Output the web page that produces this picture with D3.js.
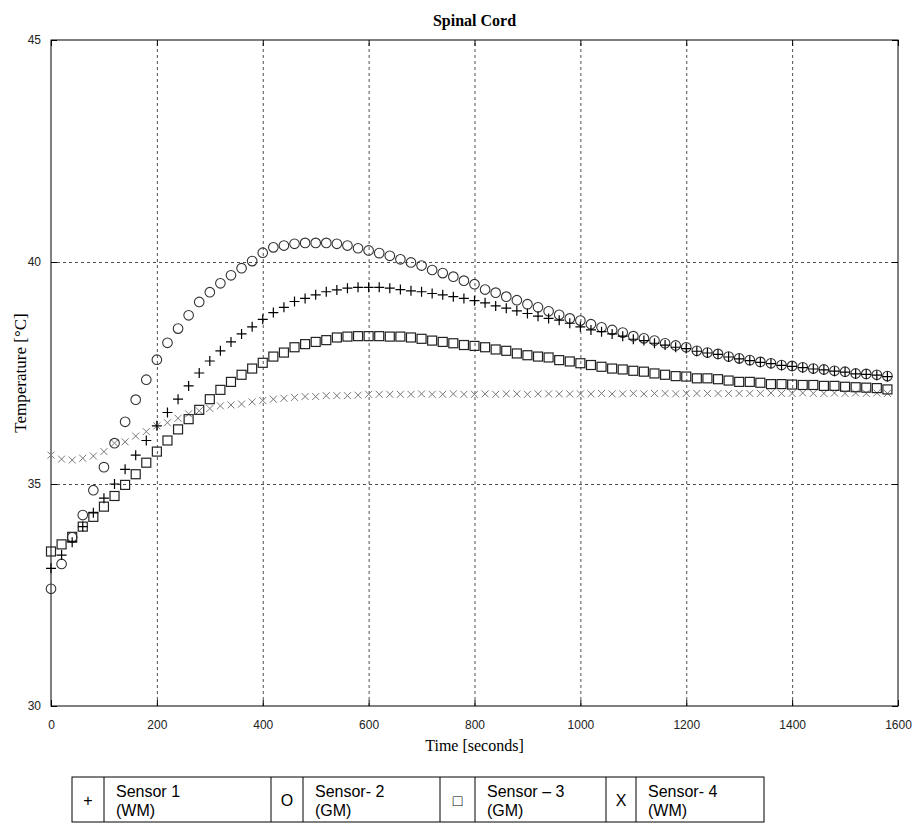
<!DOCTYPE html>
<html>
<head>
<meta charset="utf-8">
<script src="https://cdn.jsdelivr.net/npm/d3@7"></script>
<style>
  body { margin: 0; background: #fff; }
  .tick text { font-family: "Liberation Sans Narrow", "Arial Narrow", "Liberation Sans", sans-serif; font-size: 12px; fill: #222; }
  .grid line { stroke: #222; stroke-dasharray: 3,3; stroke-width: 0.8; }
  .grid .domain { display: none; }
</style>
</head>
<body>
<div id="chart"></div>
<script>
var margin = {top: 40, right: 25, bottom: 126, left: 51};
var width = 923, height = 832;
var w = 898 - margin.left, h = 706 - margin.top;

// data, one point every 20 s
var times = d3.range(0, 1600, 20);
var sensor1 = [33.1, 33.4, 33.69, 34.04, 34.35, 34.68, 35.0, 35.33, 35.65, 35.98,
  36.31, 36.61, 36.91, 37.21, 37.5, 37.77, 38.0, 38.2, 38.38, 38.54,
  38.71, 38.86, 38.98, 39.11, 39.18, 39.26, 39.33, 39.37, 39.41, 39.43,
  39.43, 39.43, 39.41, 39.38, 39.35, 39.33, 39.29, 39.26, 39.22, 39.18,
  39.13, 39.08, 39.01, 38.96, 38.9, 38.84, 38.78, 38.73, 38.69, 38.62,
  38.54, 38.47, 38.43, 38.38, 38.33, 38.26, 38.23, 38.17, 38.13, 38.08,
  38.05, 37.99, 37.95, 37.92, 37.86, 37.82, 37.78, 37.74, 37.71, 37.67,
  37.65, 37.62, 37.59, 37.57, 37.54, 37.52, 37.48, 37.47, 37.45, 37.42];
var sensor2 = [32.64, 33.2, 33.8, 34.3, 34.86, 35.38, 35.92, 36.4, 36.9, 37.35,
  37.8, 38.18, 38.5, 38.8, 39.1, 39.32, 39.52, 39.7, 39.86, 40.02,
  40.21, 40.33, 40.37, 40.41, 40.43, 40.43, 40.43, 40.41, 40.37, 40.31,
  40.26, 40.2, 40.14, 40.06, 39.99, 39.92, 39.82, 39.75, 39.67, 39.58,
  39.5, 39.38, 39.31, 39.22, 39.14, 39.05, 38.98, 38.89, 38.81, 38.73,
  38.68, 38.6, 38.53, 38.47, 38.41, 38.33, 38.28, 38.23, 38.17, 38.12,
  38.08, 38.0, 37.96, 37.93, 37.87, 37.83, 37.79, 37.75, 37.72, 37.68,
  37.66, 37.63, 37.6, 37.58, 37.55, 37.53, 37.49, 37.48, 37.46, 37.43];
var sensor3 = [33.48, 33.64, 33.81, 34.04, 34.26, 34.49, 34.73, 34.98, 35.22, 35.48,
  35.73, 35.98, 36.23, 36.46, 36.67, 36.91, 37.12, 37.3, 37.46, 37.6,
  37.73, 37.87, 37.96, 38.08, 38.15, 38.2, 38.24, 38.3, 38.32, 38.33,
  38.33, 38.33, 38.32, 38.32, 38.3, 38.27, 38.23, 38.2, 38.17, 38.13,
  38.11, 38.08, 38.03, 38.0, 37.94, 37.9, 37.87, 37.85, 37.79, 37.76,
  37.72, 37.68, 37.64, 37.6, 37.58, 37.55, 37.53, 37.49, 37.46, 37.43,
  37.42, 37.38, 37.38, 37.36, 37.33, 37.3, 37.3, 37.28, 37.25, 37.25,
  37.24, 37.23, 37.23, 37.21, 37.21, 37.19, 37.18, 37.17, 37.16, 37.13];
var sensor4 = [35.65, 35.56, 35.54, 35.58, 35.63, 35.73, 35.92, 35.95, 36.08, 36.18,
  36.31, 36.38, 36.48, 36.58, 36.65, 36.7, 36.76, 36.78, 36.8, 36.85,
  36.88, 36.91, 36.93, 36.95, 36.97, 36.97, 36.99, 36.99, 36.99, 37.0,
  37.02, 37.02, 37.02, 37.02, 37.02, 37.03, 37.02, 37.02, 37.03, 37.02,
  37.02, 37.03, 37.02, 37.03, 37.03, 37.02, 37.03, 37.03, 37.03, 37.03,
  37.03, 37.03, 37.04, 37.03, 37.03, 37.04, 37.03, 37.04, 37.04, 37.03,
  37.04, 37.04, 37.04, 37.04, 37.04, 37.04, 37.04, 37.04, 37.05, 37.04,
  37.04, 37.05, 37.04, 37.04, 37.05, 37.04, 37.05, 37.04, 37.05, 37.04];

var xTicks = [0, 200, 400, 600, 800, 1000, 1200, 1400, 1600];
var yTicks = [30, 35, 40, 45];
var legendSymbols = ["+", "O", "\u25A1", "X"];
var legendNames = [["Sensor 1", "(WM)"], ["Sensor- 2", "(GM)"], ["Sensor \u2013 3", "(GM)"], ["Sensor- 4", "(WM)"]];

var svg = d3.select("#chart").append("svg")
    .attr("width", width)
    .attr("height", height);
var g = svg.append("g")
    .attr("transform", "translate(" + margin.left + "," + margin.top + ")");

var x = d3.scaleLinear().domain([0, 1600]).range([0, w]);
var y = d3.scaleLinear().domain([30, 45]).range([h, 0]);

// dashed grid
g.append("g").attr("class", "grid")
    .attr("transform", "translate(0," + h + ")")
    .call(d3.axisBottom(x).tickValues(xTicks.slice(1, -1)).tickSize(-h).tickFormat(""));
g.append("g").attr("class", "grid")
    .call(d3.axisLeft(y).tickValues(yTicks.slice(1, -1)).tickSize(-w).tickFormat(""));

// axes with inward ticks
function styleAxis(sel) {
  sel.select(".domain").remove();
  sel.selectAll(".tick line").attr("stroke", "#000");
}
g.append("g").attr("transform", "translate(0," + h + ")")
    .call(d3.axisBottom(x).tickValues(xTicks).tickSize(-6).tickPadding(14).tickFormat(d3.format("d")))
    .call(styleAxis);
g.append("g")
    .call(d3.axisTop(x).tickValues(xTicks).tickSize(-6).tickFormat(""))
    .call(styleAxis);
g.append("g")
    .call(d3.axisLeft(y).tickValues(yTicks).tickSize(-6).tickPadding(10))
    .call(styleAxis);
g.append("g").attr("transform", "translate(" + w + ",0)")
    .call(d3.axisRight(y).tickValues(yTicks).tickSize(-6).tickFormat(""))
    .call(styleAxis);

g.append("rect")
    .attr("width", w).attr("height", h)
    .attr("fill", "none").attr("stroke", "#000").attr("stroke-width", 1);

// markers
var pts = function (arr) { return arr.map(function (v, i) { return {t: times[i], v: v}; }); };

g.selectAll(".s4").data(pts(sensor4)).enter().append("path")
    .attr("class", "s4")
    .attr("d", "M-3.5,-3.5L3.5,3.5M-3.5,3.5L3.5,-3.5")
    .attr("transform", d => "translate(" + x(d.t) + "," + y(d.v) + ")")
    .attr("stroke", "#777").attr("stroke-width", 1).attr("fill", "none");

g.selectAll(".s3").data(pts(sensor3)).enter().append("rect")
    .attr("class", "s3")
    .attr("x", d => x(d.t) - 4.5).attr("y", d => y(d.v) - 4.5)
    .attr("width", 9).attr("height", 9)
    .attr("stroke", "#222").attr("stroke-width", 1.2).attr("fill", "none");

g.selectAll(".s2").data(pts(sensor2)).enter().append("circle")
    .attr("class", "s2")
    .attr("cx", d => x(d.t)).attr("cy", d => y(d.v)).attr("r", 4.8)
    .attr("stroke", "#333").attr("stroke-width", 1.1).attr("fill", "none");

g.selectAll(".s1").data(pts(sensor1)).enter().append("path")
    .attr("class", "s1")
    .attr("d", "M-5,0L5,0M0,-5L0,5")
    .attr("transform", d => "translate(" + x(d.t) + "," + y(d.v) + ")")
    .attr("stroke", "#000").attr("stroke-width", 1.2).attr("fill", "none");

// titles
svg.append("text")
    .attr("x", margin.left + w / 2).attr("y", 26)
    .attr("text-anchor", "middle")
    .style("font-family", "'Liberation Serif', 'Times New Roman', serif")
    .style("font-weight", "bold").style("font-size", "16px")
    .text("Spinal Cord");
svg.append("text")
    .attr("x", margin.left + w / 2).attr("y", 751)
    .attr("text-anchor", "middle")
    .style("font-family", "'Liberation Serif', 'Times New Roman', serif")
    .style("font-size", "16px")
    .text("Time [seconds]");
svg.append("text")
    .attr("transform", "translate(26," + (margin.top + h / 2) + ") rotate(-90)")
    .attr("text-anchor", "middle")
    .style("font-family", "'Liberation Serif', 'Times New Roman', serif")
    .style("font-size", "17px")
    .text("Temperature [\u00B0C]");

// legend table
var cols = [72, 104, 271, 303, 440, 475, 606, 636, 764];
var tTop = 777, tBot = 822;
var leg = svg.append("g");
leg.append("rect")
    .attr("x", cols[0]).attr("y", tTop)
    .attr("width", cols[8] - cols[0]).attr("height", tBot - tTop)
    .attr("fill", "none").attr("stroke", "#000");
leg.selectAll(".div").data(cols.slice(1, -1)).enter().append("line")
    .attr("x1", d => d).attr("x2", d => d)
    .attr("y1", tTop).attr("y2", tBot)
    .attr("stroke", "#000");
legendSymbols.forEach(function (s, i) {
  leg.append("text")
      .attr("x", (cols[2 * i] + cols[2 * i + 1]) / 2).attr("y", 806)
      .attr("text-anchor", "middle")
      .style("font-family", "'Liberation Sans', Arial, sans-serif")
      .style("font-size", "16px")
      .text(s);
  leg.append("text")
      .attr("x", cols[2 * i + 1] + 12).attr("y", 797)
      .style("font-family", "'Liberation Sans', Arial, sans-serif")
      .style("font-size", "16px")
      .text(legendNames[i][0]);
  leg.append("text")
      .attr("x", cols[2 * i + 1] + 12).attr("y", 816)
      .style("font-family", "'Liberation Sans', Arial, sans-serif")
      .style("font-size", "16px")
      .text(legendNames[i][1]);
});
</script>
</body>
</html>
